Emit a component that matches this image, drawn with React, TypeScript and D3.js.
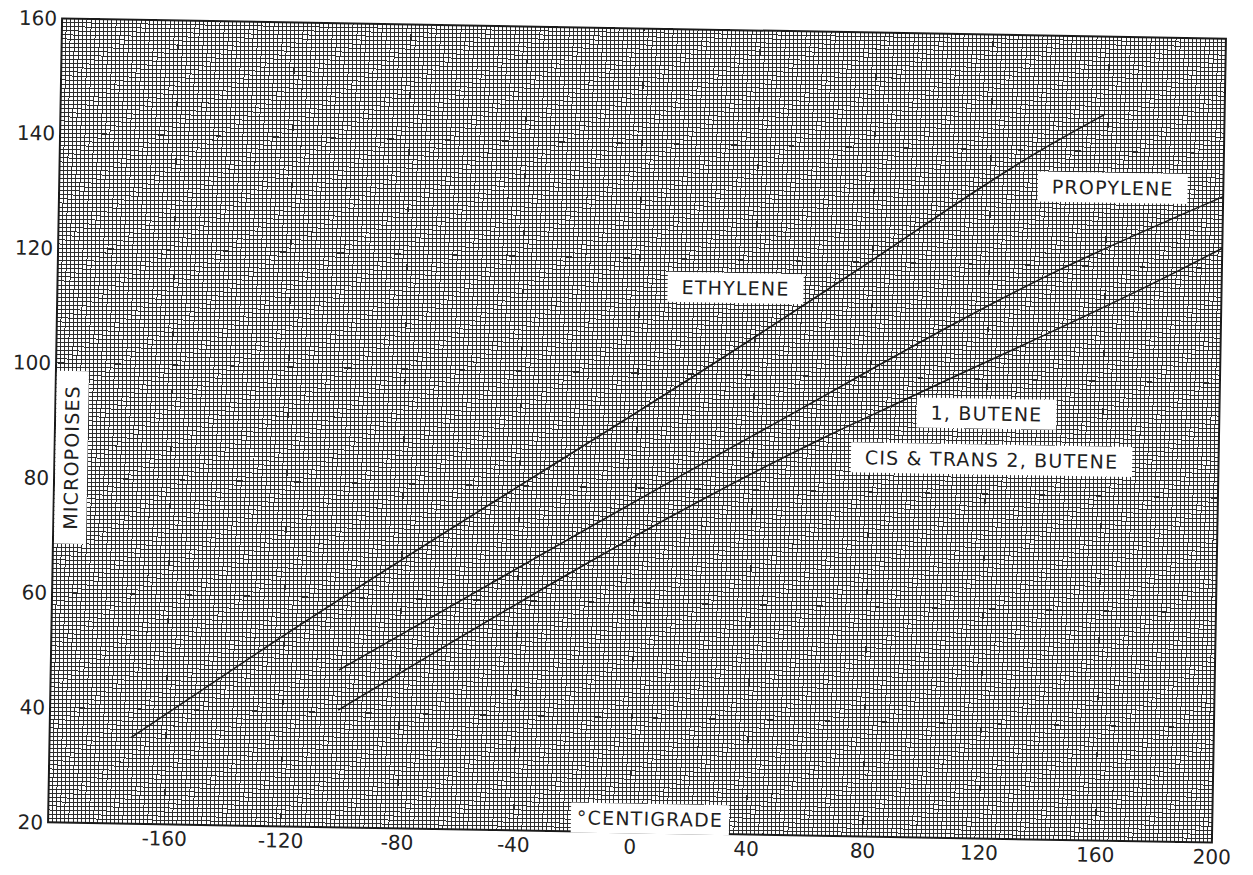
import { useEffect, useRef } from "react";
import * as d3 from "d3";

// axis ticks
const xTicks = [-160, -120, -80, -40, 0, 40, 80, 120, 160, 200];
const xTickLabels = ["-160", "-120", "-80", "-40", "0", "40", "80", "120", "160", "200"];
const yTicks = [20, 40, 60, 80, 100, 120, 140, 160];
const yTickLabels = ["20", "40", "60", "80", "100", "120", "140", "160"];

// viscosity curves, °C vs micropoises
const ethyleneTemp = [-172, -128, 41, 73, 137, 159];
const ethyleneVisc = [35, 50.5, 107, 118, 140, 146.5];
const propyleneTemp = [-101, -83, 40, 144, 200];
const propyleneVisc = [47.4, 52.8, 89.5, 119.2, 132.5];
const buteneTemp = [-101, 63, 94, 186, 200];
const buteneVisc = [40.4, 89, 96.7, 119.7, 123.5];

// curve labels and where they sit (data units)
const curveLabels = ["ETHYLENE", "PROPYLENE", "1, BUTENE", "CIS & TRANS 2, BUTENE"];
const curveLabelTemp = [33, 162, 120, 122];
const curveLabelVisc = [115.1, 133.7, 94.0, 86.0];

const W = 1253;
const H = 875;
const plot = { left: 55, right: 1219, top: 28.5, bottom: 832.5 };
const tilt = 1.0; // the scan is turned about a degree
const FONT = "DejaVu Sans, sans-serif";

const App = () => {
  const ref = useRef<SVGSVGElement>(null);

  useEffect(() => {
    if (!ref.current) return;
    const svg = d3.select(ref.current);
    svg.selectAll("*").remove();

    const x = d3.scaleLinear().domain([-200, 200]).range([plot.left, plot.right]);
    const y = d3.scaleLinear().domain([20, 160]).range([plot.bottom, plot.top]);
    const cx = (plot.left + plot.right) / 2;
    const cy = (plot.top + plot.bottom) / 2;

    const g = svg.append("g").attr("transform", `rotate(${tilt}, ${cx}, ${cy})`);

    // graph paper: 28 small squares to every labelled interval
    const fineX = d3.range(0, 281).map(i => -200 + (i * 40) / 28);
    const fineY = d3.range(0, 197).map(i => 20 + (i * 20) / 28);
    const finePath =
      fineX.map(v => `M${x(v)},${plot.top}V${plot.bottom}`).join("") +
      fineY.map(v => `M${plot.left},${y(v)}H${plot.right}`).join("");
    g.append("path")
      .attr("d", finePath)
      .attr("stroke", "#2e2e2e")
      .attr("stroke-width", 1)
      .attr("fill", "none")
      .attr("shape-rendering", "crispEdges");

    const majorPath =
      d3.range(-200, 201, 40).map(v => `M${x(v)},${plot.top}V${plot.bottom}`).join("") +
      yTicks.map(v => `M${plot.left},${y(v)}H${plot.right}`).join("");
    g.append("path")
      .attr("d", majorPath)
      .attr("stroke", "#2a2a2a")
      .attr("stroke-width", 1.1)
      .attr("fill", "none")
      .attr("shape-rendering", "crispEdges");

    g.append("rect")
      .attr("x", plot.left)
      .attr("y", plot.top)
      .attr("width", plot.right - plot.left)
      .attr("height", plot.bottom - plot.top)
      .attr("fill", "none")
      .attr("stroke", "#1a1a1a")
      .attr("stroke-width", 2);

    // curves
    const line = d3
      .line<[number, number]>()
      .x(d => x(d[0]))
      .y(d => y(d[1]))
      .curve(d3.curveMonotoneX);
    const curves = [
      d3.zip(ethyleneTemp, ethyleneVisc),
      d3.zip(propyleneTemp, propyleneVisc),
      d3.zip(buteneTemp, buteneVisc),
    ];
    g.selectAll(".curve")
      .data(curves)
      .join("path")
      .attr("class", "curve")
      .attr("d", d => line(d as [number, number][]))
      .attr("fill", "none")
      .attr("stroke", "#1a1a1a")
      .attr("stroke-width", 1.6);

    // tick labels
    g.selectAll(".ylab")
      .data(yTicks)
      .join("text")
      .attr("class", "ylab")
      .attr("x", plot.left - 5)
      .attr("y", d => y(d))
      .attr("dy", "0.36em")
      .attr("text-anchor", "end")
      .style("font-family", FONT)
      .style("font-size", "20px")
      .attr("fill", "#222")
      .text((d, i) => yTickLabels[i]);

    g.selectAll(".xlab")
      .data(xTicks)
      .join("text")
      .attr("class", "xlab")
      .attr("x", d => x(d))
      .attr("y", plot.bottom + 14)
      .attr("dy", "0.36em")
      .attr("text-anchor", "middle")
      .style("font-family", FONT)
      .style("font-size", "20px")
      .attr("fill", "#222")
      .text((d, i) => xTickLabels[i]);

    // white boxed lettering
    const boxed = (px: number, py: number, text: string, padX: number, padY: number, vertical = false) => {
      const lg = g
        .append("g")
        .attr("transform", `translate(${px},${py})${vertical ? " rotate(-90)" : ""}`);
      const rect = lg.append("rect").attr("fill", "#fff");
      const t = lg
        .append("text")
        .attr("text-anchor", "middle")
        .attr("dy", "0.36em")
        .style("font-family", FONT)
        .style("font-size", "19px")
        .style("letter-spacing", "1.2px")
        .attr("fill", "#1e1e1e")
        .text(text);
      const bb = (t.node() as SVGTextElement).getBBox();
      rect
        .attr("x", bb.x - padX)
        .attr("y", -bb.height / 2 - padY + 1)
        .attr("width", bb.width + padX * 2)
        .attr("height", bb.height + padY * 2 - 2);
      return lg;
    };

    curveLabels.forEach((name, i) => {
      boxed(x(curveLabelTemp[i]), y(curveLabelVisc[i]), name, 14, 5);
    });
    boxed(plot.left + 17, y(83.6), "MICROPOISES", 14, 6, true);
    boxed(x(6.8), plot.bottom - 14, "°CENTIGRADE", 6, 5);
  }, []);

  return (
    <svg
      ref={ref}
      width={W}
      height={H}
      style={{ position: "absolute", left: 0, top: 0, background: "#fff" }}
    />
  );
};

export default App;
